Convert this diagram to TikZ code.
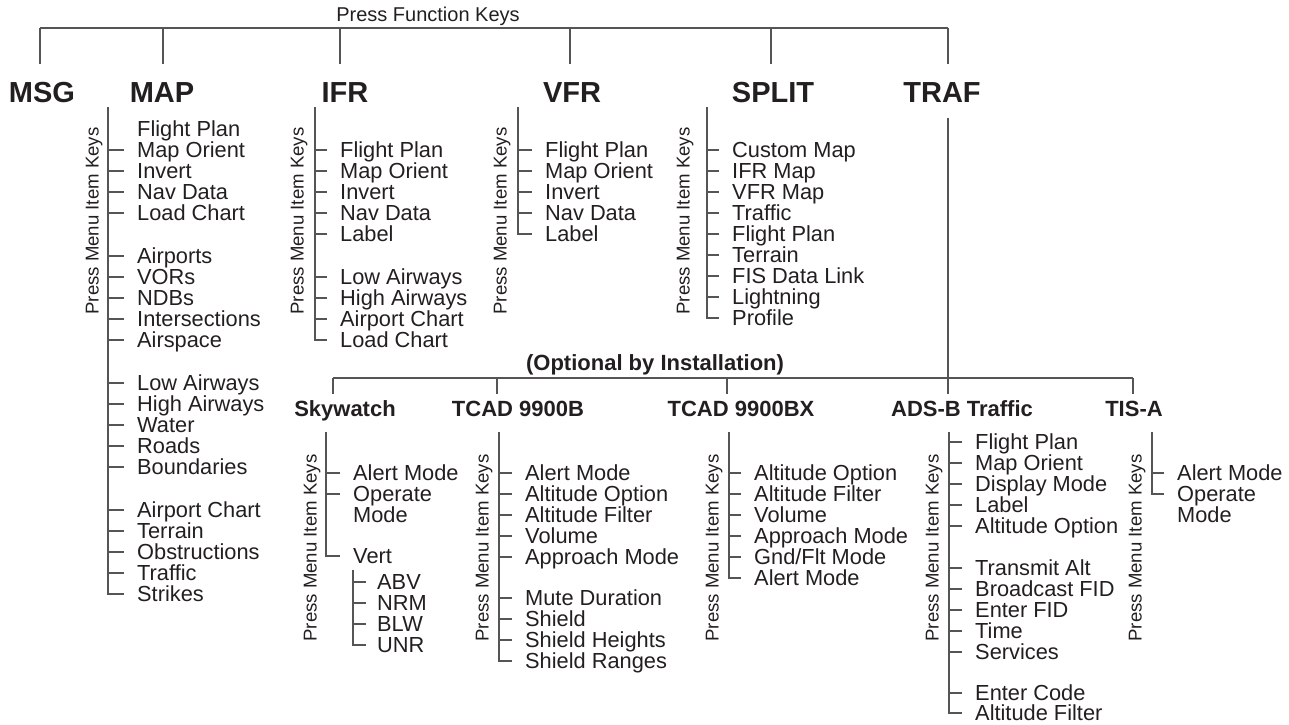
\documentclass[tikz,border=0pt]{standalone}
\usepackage{fontspec}
\setmainfont{Liberation Sans}
\usetikzlibrary{positioning}
\definecolor{ink}{HTML}{231F20}
\definecolor{wire}{HTML}{555555}

\begin{document}
\begin{tikzpicture}[x=1pt,y=-1pt,
  every node/.style={text=ink,inner sep=0pt,text depth=0pt},
  key head/.style={font=\fontsize{29}{29}\selectfont\bfseries,text height=20.8pt},
  opt head/.style={font=\fontsize{22}{22}\selectfont\bfseries,text height=15.8pt},
  item/.style={anchor=west,font=\fontsize{21.8}{21}\selectfont,text height=15.6pt},
  press/.style={rotate=90,font=\fontsize{18.6}{18}\selectfont,text height=13.3pt},
  trunk/.style={draw=wire,line width=1.3pt},
  tick/.style={draw=wire,line width=1.3pt,shorten <=13pt}]

  \useasboundingbox (0,0) rectangle (1289,724);

  % function keys
  \node[font=\fontsize{20}{20}\selectfont,text height=14.3pt] (fkeys) at (428,14) {Press Function Keys};
  \coordinate (dMSG) at (40,28);
  \coordinate (dMAP) at (163,28);
  \coordinate (dIFR) at (340,28);
  \coordinate (dVFR) at (570,28);
  \coordinate (dSPLIT) at (771,28);
  \coordinate (dTRAF) at (948,28);

  \node[key head] (msg)   at (42,92)  {MSG};
  \node[key head] (map)   at (162,92) {MAP};
  \node[key head] (ifr)   at (345,92) {IFR};
  \node[key head] (vfr)   at (572,92) {VFR};
  \node[key head] (split) at (773,92) {SPLIT};
  \node[key head] (traf)  at (942,92) {TRAF};

  \draw[trunk] (dMSG) -- (dTRAF);
  \path[trunk, shorten >=17pt]
    (dMSG) edge (dMSG |- msg.north)
    (dMAP) edge (dMAP |- map.north)
    (dIFR) edge (dIFR |- ifr.north)
    (dVFR) edge (dVFR |- vfr.north)
    (dSPLIT) edge (dSPLIT |- split.north)
    (dTRAF) edge (dTRAF |- traf.north);

  % MAP
  \coordinate (tMAP) at (108,107);
  \node[press] (kMAP) at (92,221) {Press Menu Item Keys};
  \node[item] (map1)  at (137,129) {Flight Plan};
  \node[item] (map2)  at (137,150) {Map Orient};
  \node[item] (map3)  at (137,171) {Invert};
  \node[item] (map4)  at (137,192) {Nav Data};
  \node[item] (map5)  at (137,213) {Load Chart};
  \node[item] (map6)  at (137,256) {Airports};
  \node[item] (map7)  at (137,277) {VORs};
  \node[item] (map8)  at (137,298) {NDBs};
  \node[item] (map9)  at (137,319) {Intersections};
  \node[item] (map10) at (137,340) {Airspace};
  \node[item] (map11) at (137,383) {Low Airways};
  \node[item] (map12) at (137,404) {High Airways};
  \node[item] (map13) at (137,425) {Water};
  \node[item] (map14) at (137,446) {Roads};
  \node[item] (map15) at (137,467) {Boundaries};
  \node[item] (map16) at (137,510) {Airport Chart};
  \node[item] (map17) at (137,531) {Terrain};
  \node[item] (map18) at (137,552) {Obstructions};
  \node[item] (map19) at (137,573) {Traffic};
  \node[item] (map20) at (137,594) {Strikes};
  \draw[trunk] (tMAP) |- ([xshift=-13pt]map20.west);
  \path[tick]
    (map2) edge (map2 -| tMAP)   (map3) edge (map3 -| tMAP)
    (map4) edge (map4 -| tMAP)   (map5) edge (map5 -| tMAP)
    (map6) edge (map6 -| tMAP)   (map7) edge (map7 -| tMAP)
    (map8) edge (map8 -| tMAP)   (map9) edge (map9 -| tMAP)
    (map10) edge (map10 -| tMAP) (map11) edge (map11 -| tMAP)
    (map12) edge (map12 -| tMAP) (map13) edge (map13 -| tMAP)
    (map14) edge (map14 -| tMAP) (map15) edge (map15 -| tMAP)
    (map16) edge (map16 -| tMAP) (map17) edge (map17 -| tMAP)
    (map18) edge (map18 -| tMAP) (map19) edge (map19 -| tMAP);

  % IFR
  \coordinate (tIFR) at (315,107);
  \node[press] (kIFR) at (297,221) {Press Menu Item Keys};
  \node[item] (ifr1) at (340,150) {Flight Plan};
  \node[item] (ifr2) at (340,171) {Map Orient};
  \node[item] (ifr3) at (340,192) {Invert};
  \node[item] (ifr4) at (340,213) {Nav Data};
  \node[item] (ifr5) at (340,234) {Label};
  \node[item] (ifr6) at (340,277) {Low Airways};
  \node[item] (ifr7) at (340,298) {High Airways};
  \node[item] (ifr8) at (340,319) {Airport Chart};
  \node[item] (ifr9) at (340,340) {Load Chart};
  \draw[trunk] (tIFR) |- ([xshift=-13pt]ifr9.west);
  \path[tick]
    (ifr1) edge (ifr1 -| tIFR) (ifr2) edge (ifr2 -| tIFR)
    (ifr3) edge (ifr3 -| tIFR) (ifr4) edge (ifr4 -| tIFR)
    (ifr5) edge (ifr5 -| tIFR) (ifr6) edge (ifr6 -| tIFR)
    (ifr7) edge (ifr7 -| tIFR) (ifr8) edge (ifr8 -| tIFR);

  % VFR
  \coordinate (tVFR) at (518,107);
  \node[press] (kVFR) at (500,221) {Press Menu Item Keys};
  \node[item] (vfr1) at (545,150) {Flight Plan};
  \node[item] (vfr2) at (545,171) {Map Orient};
  \node[item] (vfr3) at (545,192) {Invert};
  \node[item] (vfr4) at (545,213) {Nav Data};
  \node[item] (vfr5) at (545,234) {Label};
  \draw[trunk] (tVFR) |- ([xshift=-13pt]vfr5.west);
  \path[tick]
    (vfr1) edge (vfr1 -| tVFR) (vfr2) edge (vfr2 -| tVFR)
    (vfr3) edge (vfr3 -| tVFR) (vfr4) edge (vfr4 -| tVFR);

  % SPLIT
  \coordinate (tSPLIT) at (707,107);
  \node[press] (kSPLIT) at (683,221) {Press Menu Item Keys};
  \node[item] (spl1) at (732,150) {Custom Map};
  \node[item] (spl2) at (732,171) {IFR Map};
  \node[item] (spl3) at (732,192) {VFR Map};
  \node[item] (spl4) at (732,213) {Traffic};
  \node[item] (spl5) at (732,234) {Flight Plan};
  \node[item] (spl6) at (732,255) {Terrain};
  \node[item] (spl7) at (732,276) {FIS Data Link};
  \node[item] (spl8) at (732,297) {Lightning};
  \node[item] (spl9) at (732,318) {Profile};
  \draw[trunk] (tSPLIT) |- ([xshift=-13pt]spl9.west);
  \path[tick]
    (spl1) edge (spl1 -| tSPLIT) (spl2) edge (spl2 -| tSPLIT)
    (spl3) edge (spl3 -| tSPLIT) (spl4) edge (spl4 -| tSPLIT)
    (spl5) edge (spl5 -| tSPLIT) (spl6) edge (spl6 -| tSPLIT)
    (spl7) edge (spl7 -| tSPLIT) (spl8) edge (spl8 -| tSPLIT);

  % optional traffic systems
  \node[opt head] (opt) at (655,363) {(Optional by Installation)};
  \coordinate (oSKY) at (333,378);
  \coordinate (oTCB) at (497,378);
  \coordinate (oTCX) at (727,378);
  \coordinate (oADS) at (948,378);
  \coordinate (oTIS) at (1133,378);

  \node[opt head] (sky) at (345,409)  {Skywatch};
  \node[opt head] (tcb) at (518,409)  {TCAD 9900B};
  \node[opt head] (tcx) at (741,409)  {TCAD 9900BX};
  \node[opt head] (ads) at (962,409)  {ADS-B Traffic};
  \node[opt head] (tis) at (1134,409) {TIS-A};

  \draw[trunk, shorten <=15pt] (dTRAF |- traf.south) -- (oADS);
  \draw[trunk] (oSKY) -- (oTIS);
  \path[trunk, shorten >=7pt]
    (oSKY) edge (oSKY |- sky.north)
    (oTCB) edge (oTCB |- tcb.north)
    (oTCX) edge (oTCX |- tcx.north)
    (oADS) edge (oADS |- ads.north)
    (oTIS) edge (oTIS |- tis.north);

  % Skywatch
  \coordinate (tSKY) at (326,432);
  \node[press] (kSKY) at (310,548) {Press Menu Item Keys};
  \node[item] (sky1) at (353,473) {Alert Mode};
  \node[item] (sky2) at (353,494) {Operate};
  \node[item] (sky3) at (353,515) {Mode};
  \node[item] (sky4) at (353,556) {Vert};
  \coordinate (tVERT) at ([yshift=-6pt]sky4.south west);
  \node[item] (vert1) at (377,582) {ABV};
  \node[item] (vert2) at (377,603) {NRM};
  \node[item] (vert3) at (377,624) {BLW};
  \node[item] (vert4) at (377,645) {UNR};
  \draw[trunk] (tSKY) |- ([xshift=-13pt]sky4.west);
  \draw[trunk] (tVERT) |- ([xshift=-11pt]vert4.west);
  \path[tick]
    (sky1) edge (sky1 -| tSKY) (sky2) edge (sky2 -| tSKY);
  \path[tick, shorten <=11pt]
    (vert1) edge (vert1 -| tVERT) (vert2) edge (vert2 -| tVERT)
    (vert3) edge (vert3 -| tVERT);

  % TCAD 9900B
  \coordinate (tTCB) at (499,432);
  \node[press] (kTCB) at (482,548) {Press Menu Item Keys};
  \node[item] (tcb1) at (525,473) {Alert Mode};
  \node[item] (tcb2) at (525,494) {Altitude Option};
  \node[item] (tcb3) at (525,515) {Altitude Filter};
  \node[item] (tcb4) at (525,536) {Volume};
  \node[item] (tcb5) at (525,557) {Approach Mode};
  \node[item] (tcb6) at (525,598) {Mute Duration};
  \node[item] (tcb7) at (525,619) {Shield};
  \node[item] (tcb8) at (525,640) {Shield Heights};
  \node[item] (tcb9) at (525,661) {Shield Ranges};
  \draw[trunk] (tTCB) |- ([xshift=-13pt]tcb9.west);
  \path[tick]
    (tcb1) edge (tcb1 -| tTCB) (tcb2) edge (tcb2 -| tTCB)
    (tcb3) edge (tcb3 -| tTCB) (tcb4) edge (tcb4 -| tTCB)
    (tcb5) edge (tcb5 -| tTCB) (tcb6) edge (tcb6 -| tTCB)
    (tcb7) edge (tcb7 -| tTCB) (tcb8) edge (tcb8 -| tTCB);

  % TCAD 9900BX
  \coordinate (tTCX) at (729,432);
  \node[press] (kTCX) at (712,548) {Press Menu Item Keys};
  \node[item] (tcx1) at (754,473) {Altitude Option};
  \node[item] (tcx2) at (754,494) {Altitude Filter};
  \node[item] (tcx3) at (754,515) {Volume};
  \node[item] (tcx4) at (754,536) {Approach Mode};
  \node[item] (tcx5) at (754,557) {Gnd/Flt Mode};
  \node[item] (tcx6) at (754,578) {Alert Mode};
  \draw[trunk] (tTCX) |- ([xshift=-13pt]tcx6.west);
  \path[tick]
    (tcx1) edge (tcx1 -| tTCX) (tcx2) edge (tcx2 -| tTCX)
    (tcx3) edge (tcx3 -| tTCX) (tcx4) edge (tcx4 -| tTCX)
    (tcx5) edge (tcx5 -| tTCX);

  % ADS-B Traffic
  \coordinate (tADS) at (949,432);
  \node[press] (kADS) at (932,548) {Press Menu Item Keys};
  \node[item] (ads1)  at (975,442) {Flight Plan};
  \node[item] (ads2)  at (975,463) {Map Orient};
  \node[item] (ads3)  at (975,484) {Display Mode};
  \node[item] (ads4)  at (975,505) {Label};
  \node[item] (ads5)  at (975,526) {Altitude Option};
  \node[item] (ads6)  at (975,568) {Transmit Alt};
  \node[item] (ads7)  at (975,589) {Broadcast FID};
  \node[item] (ads8)  at (975,610) {Enter FID};
  \node[item] (ads9)  at (975,631) {Time};
  \node[item] (ads10) at (975,652) {Services};
  \node[item] (ads11) at (975,693) {Enter Code};
  \node[item] (ads12) at (975,713) {Altitude Filter};
  \draw[trunk] (tADS) |- ([xshift=-13pt]ads12.west);
  \path[tick]
    (ads1) edge (ads1 -| tADS)   (ads2) edge (ads2 -| tADS)
    (ads3) edge (ads3 -| tADS)   (ads4) edge (ads4 -| tADS)
    (ads5) edge (ads5 -| tADS)   (ads6) edge (ads6 -| tADS)
    (ads7) edge (ads7 -| tADS)   (ads8) edge (ads8 -| tADS)
    (ads9) edge (ads9 -| tADS)   (ads10) edge (ads10 -| tADS)
    (ads11) edge (ads11 -| tADS);

  % TIS-A
  \coordinate (tTIS) at (1152,432);
  \node[press] (kTIS) at (1135,548) {Press Menu Item Keys};
  \node[item] (tis1) at (1177,473) {Alert Mode};
  \node[item] (tis2) at (1177,494) {Operate};
  \node[item] (tis3) at (1177,515) {Mode};
  \draw[trunk] (tTIS) |- ([xshift=-13pt]tis2.west);
  \path[tick]
    (tis1) edge (tis1 -| tTIS);
\end{tikzpicture}
\end{document}
